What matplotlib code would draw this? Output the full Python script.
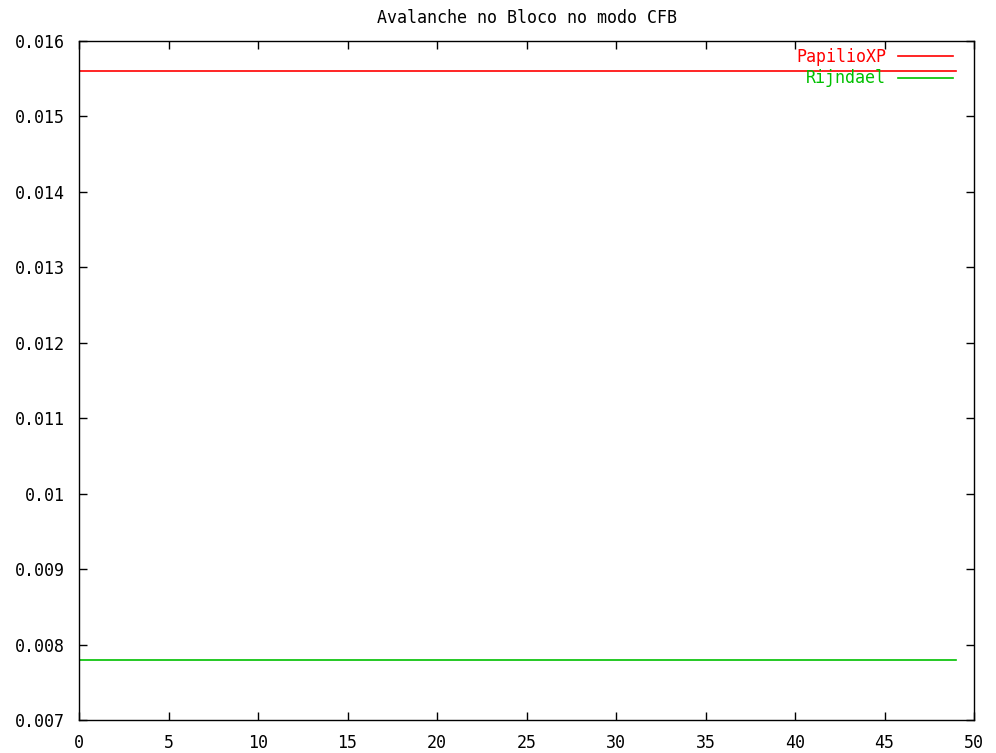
import matplotlib
matplotlib.use("Agg")
import matplotlib.pyplot as plt

blocks = list(range(50))
papilio = [0.0156] * 50
rijndael = [0.0078] * 50
series_names = ["PapilioXP", "Rijndael"]
xticks = [0, 5, 10, 15, 20, 25, 30, 35, 40, 45, 50]
yticks = [0.007, 0.008, 0.009, 0.01, 0.011, 0.012, 0.013, 0.014, 0.015, 0.016]
ytick_labels = ["0.007", "0.008", "0.009", "0.01", "0.011", "0.012", "0.013", "0.014", "0.015", "0.016"]

plt.rcParams['font.family'] = ['DejaVu Sans Mono']
W, H = 996, 753
fig = plt.figure(figsize=(W/100, H/100), dpi=100)
ax = fig.add_axes([79/W, 1 - 720/H, (974-79)/W, (720-41)/H])

ax.plot(blocks, papilio, color='#ff0000', lw=1.2, label=series_names[0])
ax.plot(blocks, rijndael, color='#00c000', lw=1.2, label=series_names[1])

ax.set_xlim(0, 50)
ax.set_ylim(0.007, 0.016)
ax.set_xticks(xticks)
ax.set_xticklabels([str(t) for t in xticks])
ax.set_yticks(yticks)
ax.set_yticklabels(ytick_labels)
ax.tick_params(direction='in', top=True, right=True, length=6, width=1, labelsize=12)
ax.tick_params(axis='x', pad=10)
ax.tick_params(axis='y', pad=10)
for s in ax.spines.values():
    s.set_linewidth(1)
ax.set_title("Avalanche no Bloco no modo CFB", fontsize=12, pad=13)

leg = ax.legend(loc='upper right', frameon=False, markerfirst=False, handlelength=3.3,
                fontsize=12, labelcolor='linecolor', borderaxespad=0, borderpad=0,
                labelspacing=0.2, handletextpad=0.7,
                bbox_to_anchor=(953/W, 1 - 48/H), bbox_transform=fig.transFigure)
for t in leg.get_texts():
    t.set_ha('right')

fig.savefig("out.png", dpi=100)
